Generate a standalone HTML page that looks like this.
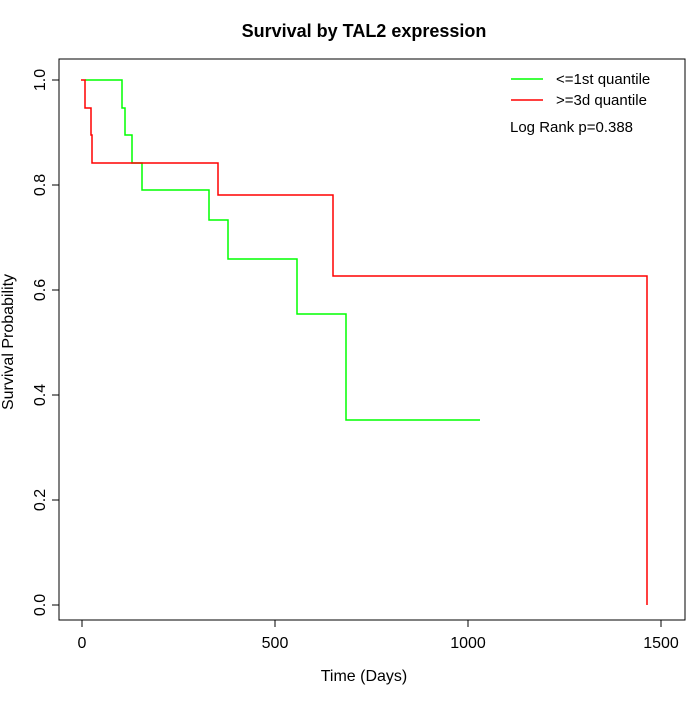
<!DOCTYPE html><html><head><style>body{margin:0;background:#fff}</style></head><body>
<svg width="700" height="700" xmlns="http://www.w3.org/2000/svg" font-family="Liberation Sans, sans-serif">
<rect width="700" height="700" fill="#fff"/>
<text x="364" y="37" font-size="18" font-weight="bold" text-anchor="middle">Survival by TAL2 expression</text>
<rect x="59" y="59" width="626" height="561" fill="none" stroke="#000"/>
<g stroke="#000" fill="none">
<path d="M82,620V627M275,620V627M468,620V627M661,620V627M82,620H661"/>
<path d="M59,80H52M59,185H52M59,290H52M59,395H52M59,500H52M59,605H52M59,80V605"/>
</g>
<g font-size="16" text-anchor="middle">
<text x="82" y="648">0</text><text x="275" y="648">500</text><text x="468" y="648">1000</text><text x="661" y="648">1500</text>
<text x="364" y="681">Time (Days)</text>
</g>
<g font-size="16" text-anchor="middle">
<text transform="translate(45,80) rotate(-90)">1.0</text>
<text transform="translate(45,185) rotate(-90)">0.8</text>
<text transform="translate(45,290) rotate(-90)">0.6</text>
<text transform="translate(45,395) rotate(-90)">0.4</text>
<text transform="translate(45,500) rotate(-90)">0.2</text>
<text transform="translate(45,605) rotate(-90)">0.0</text>
<text transform="translate(13,342) rotate(-90)">Survival Probability</text>
</g>
<path d="M85,80H122V108H125V135H132V163H142V190H209V220H228V259H297V314H346V420H480" fill="none" stroke="#00ff00" stroke-width="1.5"/>
<path d="M81,80H85V108H91V135H92V163H218V195H333V276H647V605" fill="none" stroke="#ff0000" stroke-width="1.5"/>
<line x1="511" y1="79" x2="543" y2="79" stroke="#00ff00" stroke-width="1.5"/>
<line x1="511" y1="100" x2="543" y2="100" stroke="#ff0000" stroke-width="1.5"/>
<g font-size="15"><text x="556" y="84">&lt;=1st quantile</text><text x="556" y="105">&gt;=3d quantile</text><text x="510" y="132">Log Rank p=0.388</text></g>
</svg></body></html>
